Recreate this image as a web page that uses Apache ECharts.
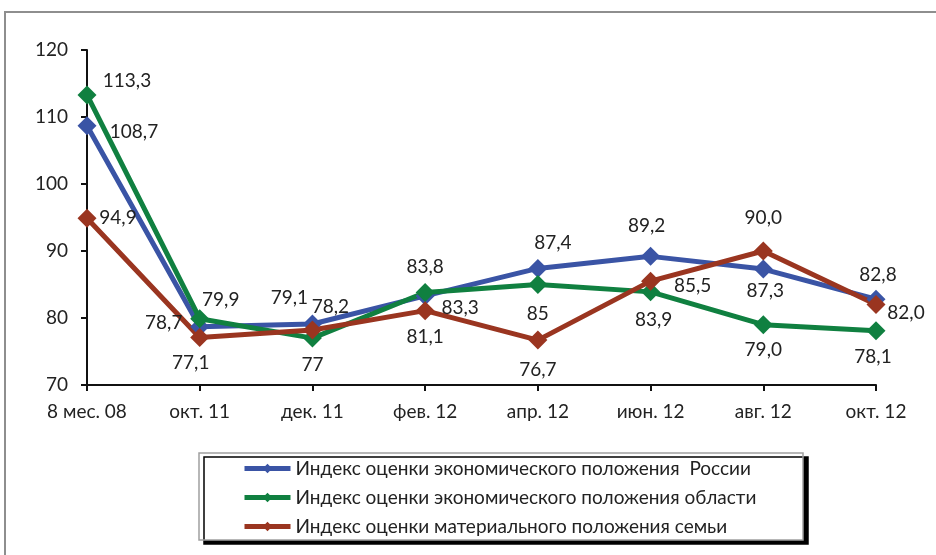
<!DOCTYPE html>
<html>
<head>
<meta charset="utf-8">
<script src="https://cdn.jsdelivr.net/npm/echarts@6/dist/echarts.min.js"></script>
<style>
html,body{margin:0;padding:0;background:#fff;}
#chart{width:936px;height:555px;}
</style>
</head>
<body>
<div id="chart"></div>
<script>
const categories = ['8 мес. 08', 'окт. 11', 'дек. 11', 'фев. 12', 'апр. 12', 'июн. 12', 'авг. 12', 'окт. 12'];
const seriesNames = [
  'Индекс оценки экономического положения  России',
  'Индекс оценки экономического положения области',
  'Индекс оценки материального положения семьи'
];
const russia = [108.7, 78.7, 79.1, 83.3, 87.4, 89.2, 87.3, 82.8];
const region = [113.3, 79.9, 77, 83.8, 85, 83.9, 79.0, 78.1];
const family = [94.9, 77.1, 78.2, 81.1, 76.7, 85.5, 90.0, 82.0];
const russiaText = ['108,7', '78,7', '79,1', '83,3', '87,4', '89,2', '87,3', '82,8'];
const regionText = ['113,3', '79,9', '77', '83,8', '85', '83,9', '79,0', '78,1'];
const familyText = ['94,9', '77,1', '78,2', '81,1', '76,7', '85,5', '90,0', '82,0'];
const yTicks = {min: 70, max: 120, interval: 10};

// layout: label offsets relative to each point
const russiaOffsets = [[47,6],[-36,-4],[-23,-26],[35,12],[15,-26],[-4,-30],[2,22],[2,-24]];
const regionOffsets = [[40,-14],[21,-19],[0,27],[0,-26],[0,29],[3,28],[0,25],[-3,26]];
const familyOffsets = [[31,0],[-9,25],[18,-23],[0,26],[0,30],[42,5],[0,-33],[30,8]];

const colors = ['#3a54a5', '#108040', '#9a3520'];
const FONT = 'Lato';
const FS = 19;
const textColor = '#222';

function buildData(values, texts, offsets) {
  return values.map((v, i) => ({
    value: v,
    label: {
      show: true,
      position: 'inside',
      offset: offsets[i],
      formatter: texts[i]
    }
  }));
}

function mkSeries(name, values, texts, offsets, color) {
  return {
    name: name,
    type: 'line',
    data: buildData(values, texts, offsets),
    symbol: 'diamond',
    symbolSize: [19, 19],
    showAllSymbol: true,
    lineStyle: {width: 5, color: color},
    itemStyle: {color: color},
    label: {
      show: true,
      color: textColor,
      fontFamily: FONT,
      fontSize: FS
    },
    emphasis: {disabled: true},
    animation: false
  };
}

const chart = echarts.init(document.getElementById('chart'), null, {renderer: 'canvas'});
chart.setOption({
  animation: false,
  backgroundColor: '#fff',
  color: colors,
  grid: {left: 87, top: 50, right: 60, bottom: 170, containLabel: false},
  graphic: [
    {type: 'rect', z: -10, silent: true,
     shape: {x: 5, y: 12, width: 1000, height: 1000},
     style: {fill: 'none', stroke: '#8e8e8e', lineWidth: 2}},
    {type: 'rect', z: -5, silent: true,
     shape: {x: 199, y: 453, width: 604, height: 87},
     style: {fill: '#fff', stroke: '#a0a0a0', lineWidth: 1.5,
             shadowColor: '#000', shadowBlur: 0, shadowOffsetX: 5, shadowOffsetY: 4}}
  ],
  legend: {
    orient: 'vertical',
    left: 237,
    top: 454,
    itemWidth: 46,
    itemHeight: 12,
    itemGap: 10,
    align: 'left',
    selectedMode: false,
    lineStyle: {width: 5},
    textStyle: {fontFamily: FONT, fontSize: FS, color: textColor, padding: [0,0,0,0]},
    data: seriesNames
  },
  xAxis: {
    type: 'category',
    data: categories,
    boundaryGap: false,
    axisLine: {lineStyle: {color: '#111', width: 2}},
    axisTick: {show: true, length: 6, alignWithLabel: true, lineStyle: {color: '#111', width: 2}},
    axisLabel: {fontFamily: FONT, fontSize: FS, color: textColor, margin: 17, interval: 0},
    splitLine: {show: false}
  },
  yAxis: {
    type: 'value',
    min: yTicks.min,
    max: yTicks.max,
    interval: yTicks.interval,
    axisLine: {show: true, lineStyle: {color: '#111', width: 2}},
    axisTick: {show: true, length: 6, lineStyle: {color: '#111', width: 2}},
    axisLabel: {fontFamily: FONT, fontSize: FS, color: textColor, margin: 19},
    splitLine: {show: false}
  },
  series: [
    mkSeries(seriesNames[0], russia, russiaText, russiaOffsets, colors[0]),
    mkSeries(seriesNames[1], region, regionText, regionOffsets, colors[1]),
    mkSeries(seriesNames[2], family, familyText, familyOffsets, colors[2])
  ]
});
</script>
</body>
</html>
